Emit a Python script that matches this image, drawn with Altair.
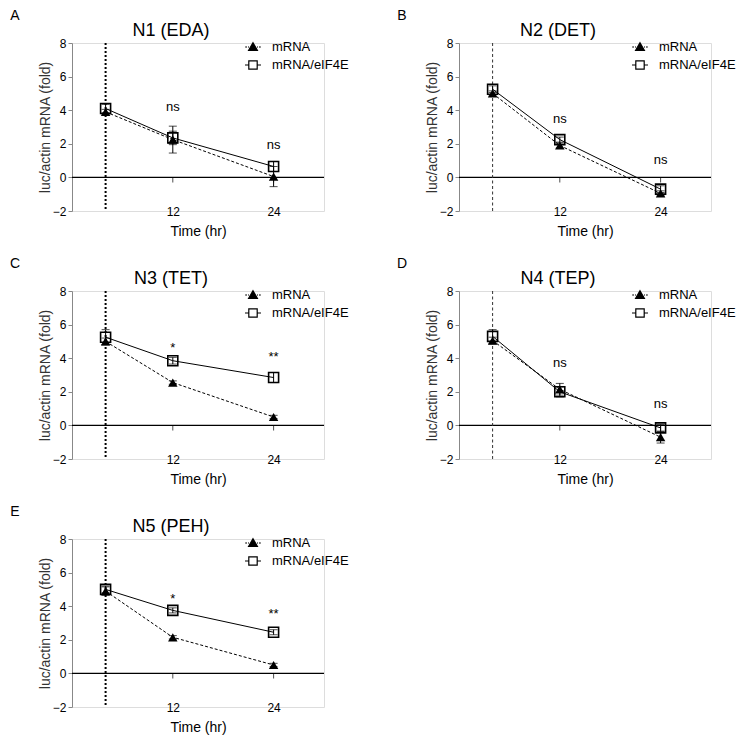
import altair as alt
import pandas as pd

FONT = "Liberation Sans"

# ---- data ----
times = [4, 12, 24]
x_tick_values = [12, 24]
y_tick_values = [-2, 0, 2, 4, 6, 8]
start_marker_time = [4]
series_names = ["mRNA", "mRNA/eIF4E"]

panel_titles = ["N1 (EDA)", "N2 (DET)", "N3 (TET)", "N4 (TEP)", "N5 (PEH)"]
panel_letters = ["A", "B", "C", "D", "E"]

mrna_N1 = [3.9, 2.25, 0.05]
mrna_err_N1 = [0.15, 0.8, 0.6]
eif_N1 = [4.1, 2.35, 0.65]
eif_err_N1 = [0.25, 0.4, 0.3]

mrna_N2 = [5.0, 1.9, -0.95]
mrna_err_N2 = [0.15, 0.15, 0.15]
eif_N2 = [5.25, 2.25, -0.7]
eif_err_N2 = [0.2, 0.15, 0.2]

mrna_N3 = [5.0, 2.55, 0.5]
mrna_err_N3 = [0.2, 0.1, 0.1]
eif_N3 = [5.25, 3.85, 2.85]
eif_err_N3 = [0.45, 0.2, 0.3]

mrna_N4 = [5.05, 2.15, -0.7]
mrna_err_N4 = [0.2, 0.35, 0.35]
eif_N4 = [5.3, 2.0, -0.15]
eif_err_N4 = [0.4, 0.3, 0.2]

mrna_N5 = [4.9, 2.15, 0.5]
mrna_err_N5 = [0.25, 0.1, 0.1]
eif_N5 = [5.0, 3.75, 2.45]
eif_err_N5 = [0.2, 0.15, 0.15]

sig_times = [12, 24]
sig_N1 = ["ns", "ns"]
sig_y_N1 = [4.2, 1.95]
sig_N2 = ["ns", "ns"]
sig_y_N2 = [3.45, 1.05]
sig_N3 = ["*", "**"]
sig_y_N3 = [4.6, 4.05]
sig_N4 = ["ns", "ns"]
sig_y_N4 = [3.7, 1.3]
sig_N5 = ["*", "**"]
sig_y_N5 = [4.45, 3.55]

mrna_all = [mrna_N1, mrna_N2, mrna_N3, mrna_N4, mrna_N5]
mrna_err_all = [mrna_err_N1, mrna_err_N2, mrna_err_N3, mrna_err_N4, mrna_err_N5]
eif_all = [eif_N1, eif_N2, eif_N3, eif_N4, eif_N5]
eif_err_all = [eif_err_N1, eif_err_N2, eif_err_N3, eif_err_N4, eif_err_N5]
sig_all = [sig_N1, sig_N2, sig_N3, sig_N4, sig_N5]
sig_y_all = [sig_y_N1, sig_y_N2, sig_y_N3, sig_y_N4, sig_y_N5]
thick_marker_line = [True, False, True, False, True]

# legend symbols (unit square, scaled by symbolSize)
TRI_PATH = "M-0.78,0H-0.6M-0.5,0H-0.4M0.4,0H0.5M0.6,0H0.78M0,-0.42L0.44,0.34L-0.44,0.34Z"
SQ_PATH = "M-0.8,0H-0.42M0.42,0H0.8M-0.42,-0.42H0.42V0.42H-0.42Z"

W, H = 252, 168
XDOM = [0, 30]
YDOM = [-2, 8]

x_axis = alt.Axis(values=x_tick_values, domain=False, ticks=False, grid=False,
                  labelBaseline="middle", labelPadding=0, labelFontSize=12,
                  format="d", title="Time (hr)", titleFontSize=14,
                  titleFontWeight="normal", titlePadding=7)
y_axis = alt.Axis(values=y_tick_values, grid=False, tickSize=4, labelPadding=2,
                  labelFontSize=12, title="luc/actin mRNA (fold)",
                  titleFontSize=14, titleFontWeight="normal", titleColor="#333333",
                  titlePadding=0)


def X(field):
    return alt.X(field, type="quantitative", scale=alt.Scale(domain=XDOM), axis=x_axis)


def Y(field):
    return alt.Y(field, type="quantitative", scale=alt.Scale(domain=YDOM), axis=y_axis)


def panel(i):
    rows = []
    for s, vals, errs in [(series_names[0], mrna_all[i], mrna_err_all[i]),
                          (series_names[1], eif_all[i], eif_err_all[i])]:
        for t, v, e in zip(times, vals, errs):
            rows.append({"time": t, "value": v, "lo": v - e, "hi": v + e, "series": s})
    df = pd.DataFrame(rows)
    base = alt.Chart(df)

    zero = alt.Chart(pd.DataFrame({"y": [0]})).mark_rule(color="black", strokeWidth=1.2).encode(y=Y("y"))
    if thick_marker_line[i]:
        vline = alt.Chart(pd.DataFrame({"t": start_marker_time})).mark_rule(
            color="black", strokeWidth=2, strokeDash=[2, 2]).encode(x=X("t"))
    else:
        vline = alt.Chart(pd.DataFrame({"t": start_marker_time})).mark_rule(
            color="#333333", strokeWidth=1, strokeDash=[3, 2.5]).encode(x=X("t"))
    zticks = alt.Chart(pd.DataFrame({"t": x_tick_values, "y": [0, 0]})).mark_tick(
        orient="vertical", size=5, thickness=1, color="black", yOffset=2.5).encode(x=X("t"), y=Y("y"))

    line_m = base.transform_filter(alt.datum.series == series_names[0]).mark_line(
        color="black", strokeWidth=1, strokeDash=[3, 2]).encode(x=X("time"), y=Y("value"))
    line_e = base.transform_filter(alt.datum.series == series_names[1]).mark_line(
        color="black", strokeWidth=1).encode(x=X("time"), y=Y("value"))

    err = base.mark_rule(color="black", strokeWidth=1).encode(x=X("time"), y=Y("lo"), y2="hi")
    cap_lo = base.mark_tick(orient="horizontal", size=8, thickness=1, color="black").encode(
        x=X("time"), y=Y("lo"))
    cap_hi = base.mark_tick(orient="horizontal", size=8, thickness=1, color="black").encode(
        x=X("time"), y=Y("hi"))

    squares = base.transform_filter(alt.datum.series == series_names[1]).mark_point(
        shape="square", size=100, filled=False, fillOpacity=0,
        stroke="black", strokeWidth=1.6, opacity=1).encode(x=X("time"), y=Y("value"))
    tris = base.transform_filter(alt.datum.series == series_names[0]).mark_point(
        shape="triangle-up", size=90, filled=True, color="black", opacity=1).encode(
        x=X("time"), y=Y("value"))

    leg = dict(title=None, orient="none", legendX=170, legendY=-7, padding=0,
               symbolSize=400, symbolStrokeColor="black", symbolStrokeWidth=1.2,
               symbolOpacity=1, labelFontSize=13, labelFont=FONT, labelColor="black",
               labelOffset=8, rowPadding=0)
    legend_layer = base.mark_point(opacity=0, filled=True).encode(
        x=X("time"), y=Y("value"),
        shape=alt.Shape("series:N", scale=alt.Scale(domain=series_names, range=[TRI_PATH, SQ_PATH]),
                        legend=alt.Legend(**leg)),
        fill=alt.Fill("series:N", scale=alt.Scale(domain=series_names, range=["black", "white"]),
                      legend=alt.Legend(**leg)),
        stroke=alt.Stroke("series:N", scale=alt.Scale(domain=series_names, range=["black", "black"]),
                          legend=alt.Legend(**leg)),
    )

    sig = alt.Chart(pd.DataFrame({"t": sig_times, "y": sig_y_all[i], "txt": sig_all[i]})).mark_text(
        fontSize=13, font=FONT, color="black", baseline="middle").encode(
        x=X("t"), y=Y("y"), text="txt:N")

    letter = alt.Chart(pd.DataFrame({"L": [panel_letters[i]]})).mark_text(
        fontSize=14, font=FONT, color="black", align="center", baseline="middle").encode(
        x=alt.value(-57), y=alt.value(-27), text="L:N")

    return alt.layer(zero, vline, zticks, line_m, line_e, err, cap_lo, cap_hi,
                     squares, tris, legend_layer, sig, letter).properties(
        width=W, height=H,
        title=alt.TitleParams(panel_titles[i], fontSize=18, fontWeight="normal", font=FONT,
                              dx=-27, offset=-31, color="black", frame="group"))


chart = alt.concat(*[panel(i) for i in range(5)], columns=2,
                   spacing={"row": 80, "column": 135}, bounds="flush").resolve_scale(
    shape="independent", fill="independent", stroke="independent").resolve_legend(
    shape="independent", fill="independent", stroke="independent").properties(
    padding={"left": 1, "top": 0, "right": 5, "bottom": 5}).configure_view(
    stroke=None).configure_axis(
    labelFont=FONT, titleFont=FONT, domainColor="black", tickColor="black",
    labelColor="black", titleColor="black").configure(background="white")

chart.save("out.html", embed_options={"renderer": "svg", "actions": False})
